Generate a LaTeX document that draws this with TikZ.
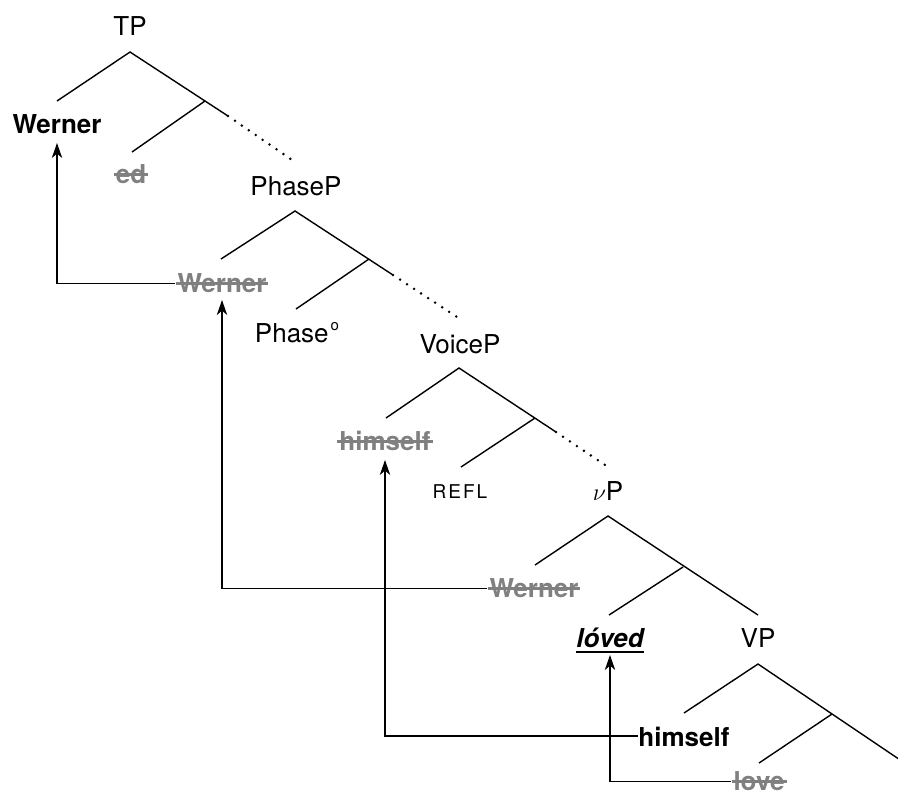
\documentclass[tikz,border=0pt]{standalone}
\usepackage{fontspec}
\setmainfont{TeX Gyre Heros}
\usetikzlibrary{arrows.meta,calc}
\definecolor{gonegray}{gray}{0.5}
\newsavebox\mybox
\newcommand\strk[1]{\sbox\mybox{#1}\rlap{\kern-1pt\rule[3.7pt]{\dimexpr\wd\mybox+2pt\relax}{1.2pt}}\usebox\mybox}
\newcommand\ulbox[1]{\sbox\mybox{#1}\rlap{\usebox\mybox}\rule[-3pt]{\wd\mybox}{1.2pt}}
\newcommand\degsup{\raisebox{5.6pt}{\fontsize{7.5pt}{8pt}\selectfont o}}
\tikzset{
  lbl/.style={inner sep=0pt, anchor=base, font=\fontsize{13pt}{15pt}\selectfont},
  boldlbl/.style={lbl, font=\fontsize{13pt}{15pt}\selectfont\bfseries},
  gone/.style={lbl, text=gonegray, font=\fontsize{13pt}{15pt}\selectfont\bfseries},
  branch/.style={line width=0.7pt},
  dotline/.style={line width=1.4pt, dash pattern=on 0pt off 4.2pt, line cap=round},
  arr/.style={line width=0.7pt, -{Stealth[length=7.5pt,width=5.2pt,inset=2.2pt]}}
}
\begin{document}
\begin{tikzpicture}[x=0.5pt,y=-0.5pt]
\useasboundingbox (0,0) rectangle (898,794);
% labels
\node[lbl] (tp) at (130,35) {TP};
\node[boldlbl] (w1) at (57,133) {Werner};
\node[gone] (ed) at (131,183) {\strk{ed}};
\node[lbl] (pp) at (296,195) {PhaseP};
\node[gone] (w2) at (222,292) {\strk{Werner}};
\node[lbl] (ph) at (297,342) {Phase\kern1pt\degsup};
\node[lbl] (vp) at (460,353) {VoiceP};
\node[gone] (h1) at (385,450) {\strk{himself}};
\node[lbl, font=\fontsize{9.5pt}{11pt}\selectfont] (refl) at (460,498) {R\kern1pt E\kern1pt F\kern1pt L};
\node[lbl] (nup) at (608,500) {$\nu$P};
\node[gone] (w3) at (534,597) {\strk{Werner}};
\node[lbl, font=\fontsize{13pt}{15pt}\selectfont\bfseries\itshape] (lv) at (610,647) {\ulbox{lóved}};
\node[lbl] (vpp) at (758,647) {VP};
\node[boldlbl] (h2) at (684,746) {himself};
\node[gone] (love) at (759,790) {\strk{love}};
% TP tree
\coordinate (tpA) at (130,52); \coordinate (tpL) at (57,101);
\coordinate (tpJ) at (205,101); \coordinate (tpI) at (132,152);
\coordinate (tpS) at (228,116); \coordinate (tpD) at (295,162);
\draw[branch] (tpL) -- (tpA) -- (tpS); \draw[branch] (tpJ) -- (tpI);
\draw[dotline] (tpS) -- (tpD);
% PhaseP tree
\coordinate (ppA) at (295,211); \coordinate (ppL) at (221,259);
\coordinate (ppJ) at (369,259); \coordinate (ppI) at (296,309);
\coordinate (ppS) at (393,275); \coordinate (ppD) at (460,319);
\draw[branch] (ppL) -- (ppA) -- (ppS); \draw[branch] (ppJ) -- (ppI);
\draw[dotline] (ppS) -- (ppD);
% VoiceP tree
\coordinate (vpA) at (459,368); \coordinate (vpL) at (386,418);
\coordinate (vpJ) at (535,418); \coordinate (vpI) at (461,467);
\coordinate (vpS) at (556,432); \coordinate (vpD) at (608,467);
\draw[branch] (vpL) -- (vpA) -- (vpS); \draw[branch] (vpJ) -- (vpI);
\draw[dotline] (vpS) -- (vpD);
% vP tree
\coordinate (nA) at (608,516); \coordinate (nL) at (535,565);
\coordinate (nJ) at (683,567); \coordinate (nI) at (609,615);
\coordinate (nR) at (758,615);
\draw[branch] (nL) -- (nA) -- (nR); \draw[branch] (nJ) -- (nI);
% VP tree
\coordinate (vA) at (758,664); \coordinate (vL) at (684,713);
\coordinate (vJ) at (832,714); \coordinate (vI) at (759,763);
\coordinate (vR) at (918,772);
\draw[branch] (vL) -- (vA) -- (vR); \draw[branch] (vJ) -- (vI);
% movement arrows
\draw[arr] ($(w2.base west)+(-2,-8.5)$) -| ([yshift=-5pt]w1.base);
\draw[arr] ($(w3.base west)+(-2,-8.5)$) -| ([yshift=-4pt]w2.base);
\draw[arr] ($(h2.base west)+(0,-10)$) -| ([yshift=-5pt]h1.base);
\draw[arr] ($(love.base west)+(-2,-8.5)$) -| ([yshift=-4pt]lv.base);
\end{tikzpicture}
\end{document}
